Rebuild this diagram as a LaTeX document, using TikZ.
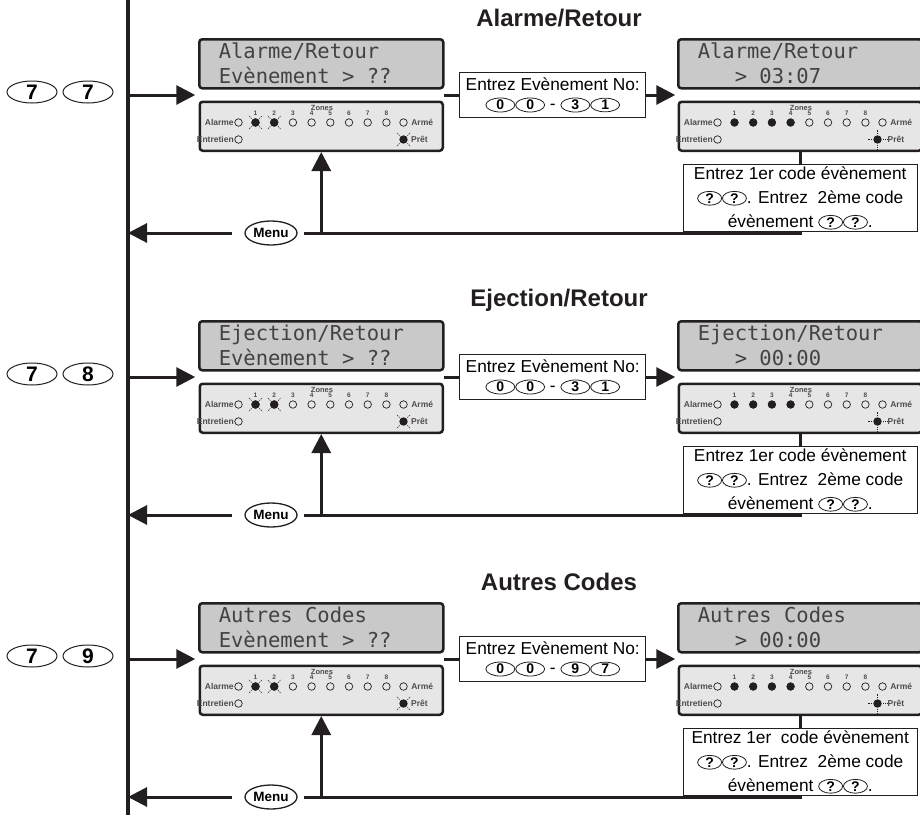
\documentclass[tikz,border=0pt]{standalone}
\usepackage{fontspec}
\setmainfont{Liberation Sans}
\newfontfamily\lcdfont{DejaVu Sans Mono}
\usepackage{tikz}
\usetikzlibrary{positioning, arrows.meta, calc, shapes.geometric}

\definecolor{ink}{HTML}{231F20}
\definecolor{lcdgray}{HTML}{C9C9C9}
\definecolor{ledgray}{HTML}{E6E6E6}
\definecolor{taggray}{HTML}{4D4D4D}

\newcommand{\keycap}[2][29pt]{%
  \tikz[baseline=(kc.base)]\node[draw=ink, line width=0.8pt, ellipse, inner sep=0pt,
    minimum width=#1, minimum height=13pt,
    font=\fontsize{14}{14}\selectfont\bfseries] (kc) {#2};}

\begin{document}
\begin{tikzpicture}[
    x=1pt, y=-1pt,
    font=\fontsize{17.3}{19.5}\selectfont,
    lcd/.style={draw=ink, line width=2.5pt, rounded corners=3pt, fill=lcdgray,
      anchor=north west, minimum width=244pt, minimum height=49pt,
      text width=205pt, inner xsep=19pt, inner ysep=1pt, align=left, text=ink!85,
      font=\lcdfont\fontsize{20.5}{25}\selectfont,
      execute at begin node={\spaceskip=0.602em\relax}},
    ledbox/.style={draw=ink, line width=2.5pt, rounded corners=3pt, fill=ledgray,
      minimum width=243pt, minimum height=49pt},
    numbox/.style={draw=ink, line width=1pt, align=center, inner sep=2pt,
      minimum width=186pt, minimum height=45pt},
    notebox/.style={draw=ink, line width=1pt, align=center, inner sep=1pt,
      minimum width=234pt, minimum height=67pt, font=\fontsize{17.3}{24}\selectfont},
    title/.style={text=ink, font=\fontsize{24}{24}\selectfont\bfseries},
    bigkey/.style={draw=ink, ellipse, line width=1pt, inner sep=0pt,
      minimum width=50pt, minimum height=22pt, font=\fontsize{21}{21}\selectfont\bfseries},
    menukey/.style={draw=ink, ellipse, line width=1.3pt, inner sep=0pt,
      minimum width=52pt, minimum height=24pt, font=\fontsize{13.5}{14}\selectfont\bfseries},
    led/.style={draw=ink, circle, line width=0.7pt, minimum size=7.5pt, inner sep=0pt},
    tag/.style={text=taggray, inner sep=0.5pt, font=\fontsize{8.5}{9}\selectfont\bfseries},
    num/.style={text=taggray, inner sep=0pt, font=\fontsize{6.5}{7}\selectfont\bfseries},
    ray/.style={draw=ink, line width=0.6pt, dash pattern=on 1.2pt off 0.8pt},
    wire/.style={draw=ink, line width=3pt},
    arrow/.style={wire, -{Triangle[length=19pt, width=19pt]}},
    spine/.style={draw=ink, line width=3.5pt},
    flashx/.pic={\fill[ink] (0,0) circle (4.2);
      \foreach \a in {45,135,225,315} \draw[ray] (\a:5.5) -- (\a:9.5);},
    flashp/.pic={\fill[ink] (0,0) circle (4.2);
      \foreach \a in {0,90,180,270} \draw[ray] (\a:5.5) -- (\a:10);},
]
\useasboundingbox (0,0) rectangle (920,817);

% --- main line on the left ---
\coordinate (top) at (128,0);
\coordinate (bot) at (128,815);
\draw[spine] (top) -- (bot);

\foreach \i/\ttl/\kb/\ra/\rb/\val/\gap in {
    0/{Alarme/Retour}/7/3/1/03:07/{},
    1/{Ejection/Retour}/8/3/1/00:00/{},
    2/{Autres Codes}/9/9/7/00:00/{\ }}{
  \pgfmathsetmacro{\oy}{282*\i}

  % --- title and keys ---
  \node[title] (ttl\i) at (559,18+\oy) {\ttl};
  \node[bigkey] (ka\i) at (32,92+\oy) {7};
  \node[bigkey, right=5pt of ka\i] (kb\i) {\kb};

  % --- SET SCREEN (LEFT) ---
  \node[lcd] (lcdA\i) at (198,38+\oy) {\ttl\\Evènement > ??};
  \node[ledbox, below=11pt of lcdA\i] (ledA\i) {};
  \coordinate (gapA\i) at ($(lcdA\i.south west)!0.5!(ledA\i.north west)$);
  \coordinate (gapAr\i) at ($(lcdA\i.south east)!0.5!(ledA\i.north east)$);
  \draw[arrow, shorten >=3pt] (gapA\i -| top) -- (gapA\i);

  % --- event number box ---
  \node[numbox, right=15pt of gapAr\i] (num\i)
    {Entrez Evènement No:\\\keycap{0}\keycap{0} - \keycap{\ra}\keycap{\rb}};
  \draw[wire] (gapAr\i) -- (num\i);

  % --- VIEW SCREEN (RIGHT) ---
  \node[lcd] (lcdB\i) at (677,38+\oy) {\ttl\\\phantom{Ala}> \val};
  \node[ledbox, below=11pt of lcdB\i] (ledB\i) {};
  \coordinate (gapB\i) at ($(lcdB\i.south west)!0.5!(ledB\i.north west)$);
  \draw[arrow, shorten >=2pt] (num\i) -- (gapB\i);

  \node[notebox, below=12pt of ledB\i] (note\i)
    {Entrez 1er \gap code évènement\\
     \keycap[24pt]{?}\keycap[24pt]{?}. Entrez\ \ 2ème code\\
     évènement \keycap[24pt]{?}\keycap[24pt]{?}.};
  \draw[wire] (ledB\i) -- (note\i);

  % --- LED rows ---
  \foreach \p in {A,B}{
    \begin{scope}[shift={(led\p\i.north west)}]
      \node[num, font=\fontsize{7.5}{8}\selectfont\bfseries] (zt\p\i) at (123.5,7) {Zones};
      \foreach \z in {1,...,8}{
        \node[num] (zn\p\i\z) at ({38.3+18.7*\z},13) {\z};
        \node[led] (z\p\i\z) at ({38.3+18.7*\z},22) {};
      }
      \node[led] (al\p\i) at (40,22) {};
      \node[led] (ar\p\i) at (205,22) {};
      \node[led] (en\p\i) at (40,39) {};
      \node[tag, left=0pt of al\p\i] (alt\p\i) {Alarme};
      \node[tag, right=3pt of ar\p\i] (art\p\i) {Armé};
      \node[tag, left=0pt of en\p\i] (ent\p\i) {Entretien};
    \end{scope}
  }
  \foreach \z in {1,2} \path (zA\i\z) pic {flashx};
  \foreach \z in {1,...,4} \fill[ink] (zB\i\z) circle (4);
  \coordinate (prA\i) at ($(ledA\i.north west)+(205,39)$);
  \coordinate (prB\i) at ($(ledB\i.north west)+(200,39)$);
  \path (prA\i) pic {flashx};
  \path (prB\i) pic {flashp};
  \node[tag, anchor=west] (prtA\i) at ($(prA\i)+(7,0)$) {Prêt};
  \node[tag, anchor=west] (prtB\i) at ($(prB\i)+(9.5,0)$) {Prêt};

  % --- menu return ---
  \node[menukey] (menu\i) at (271,233+\oy) {Menu};
  \draw[wire, shorten >=6pt] (note\i.south) |- (menu\i.east);
  \draw[arrow] (ledA\i.south |- menu\i) -- (ledA\i.south);
  \draw[arrow, shorten <=12pt] (menu\i.west) -- (menu\i.west -| top);
}
\end{tikzpicture}
\end{document}
